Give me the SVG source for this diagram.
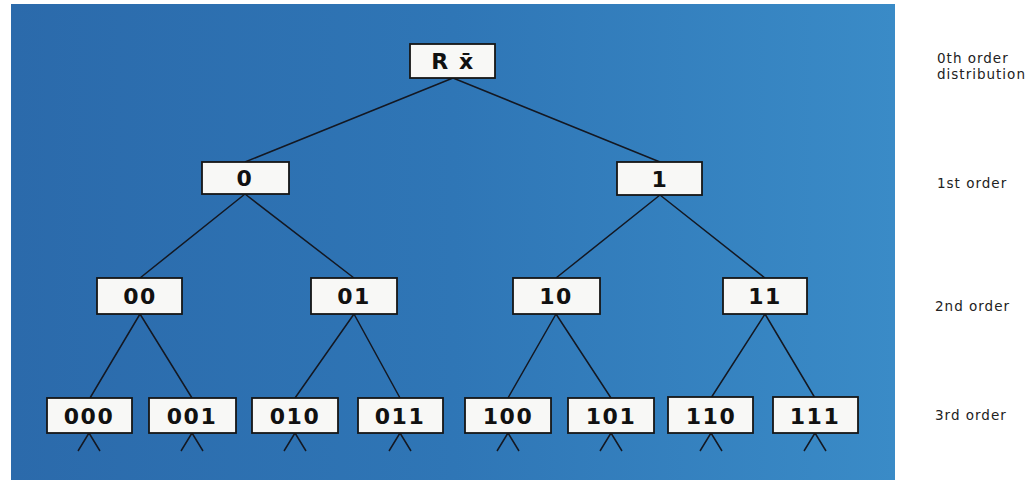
<svg xmlns="http://www.w3.org/2000/svg" width="1035" height="482" viewBox="0 0 1035 482">
<defs>
<linearGradient id="bg" x1="0" y1="0" x2="1" y2="0">
<stop offset="0" stop-color="#2b6aab"/>
<stop offset="0.5" stop-color="#2f76b6"/>
<stop offset="1" stop-color="#3a8bc7"/>
</linearGradient>
<style>
.box{fill:#f8f8f6;stroke:#161616;stroke-width:1.8}
.lbl{font-family:"DejaVu Sans","Liberation Sans",sans-serif;font-weight:bold;font-size:22px;fill:#111;text-anchor:middle;letter-spacing:1.5px}
.side{font-family:"DejaVu Sans","Liberation Sans",sans-serif;font-size:13.5px;fill:#222;letter-spacing:1px}
.edge{stroke:#141822;stroke-width:1.5;fill:none}
</style>
</defs>
<rect width="1035" height="482" fill="#ffffff"/>
<rect x="11" y="4" width="884" height="476" fill="url(#bg)"/>
<g id="connectors" class="edge">
<path d="M453 78 L245 162 M453 78 L660 162"/>
<path d="M245 194 L140 278 M245 194 L354 278 M660 195 L556 278 M660 195 L765 278"/>
<path d="M140 314 L90 398 M140 314 L192 398 M354 314 L295 398 M354 314 L400 398 M556 314 L508 398 M556 314 L611 398 M765 314 L711 398 M765 314 L815 398"/>
<path d="M89 433 L78 451 M89 433 L100 451 M192 433 L181 451 M192 433 L203 451 M295 433 L284 451 M295 433 L306 451 M400 433 L389 451 M400 433 L411 451 M508 433 L497 451 M508 433 L519 451 M611 433 L600 451 M611 433 L622 451 M711 433 L700 451 M711 433 L722 451 M815 433 L804 451 M815 433 L826 451"/>
</g>
<g id="n-root"><rect class="box" x="410" y="44" width="85" height="34"/><text class="lbl" x="453" y="69">R x̄</text></g>
<g id="n-0"><rect class="box" x="202" y="162" width="87" height="32"/><text class="lbl" x="245" y="186">0</text></g>
<g id="n-1"><rect class="box" x="617" y="162" width="85" height="33"/><text class="lbl" x="660" y="187">1</text></g>
<g id="n-00"><rect class="box" x="97" y="278" width="85" height="36"/><text class="lbl" x="140" y="304">00</text></g>
<g id="n-01"><rect class="box" x="311" y="278" width="86" height="36"/><text class="lbl" x="354" y="304">01</text></g>
<g id="n-10"><rect class="box" x="513" y="278" width="87" height="36"/><text class="lbl" x="556" y="304">10</text></g>
<g id="n-11"><rect class="box" x="723" y="278" width="84" height="36"/><text class="lbl" x="765" y="304">11</text></g>
<g id="n-000"><rect class="box" x="47" y="398" width="85" height="35"/><text class="lbl" x="89" y="424">000</text></g>
<g id="n-001"><rect class="box" x="149" y="398" width="87" height="35"/><text class="lbl" x="192" y="424">001</text></g>
<g id="n-010"><rect class="box" x="252" y="398" width="86" height="35"/><text class="lbl" x="295" y="424">010</text></g>
<g id="n-011"><rect class="box" x="358" y="398" width="85" height="35"/><text class="lbl" x="400" y="424">011</text></g>
<g id="n-100"><rect class="box" x="465" y="398" width="86" height="35"/><text class="lbl" x="508" y="424">100</text></g>
<g id="n-101"><rect class="box" x="568" y="398" width="86" height="35"/><text class="lbl" x="611" y="424">101</text></g>
<g id="n-110"><rect class="box" x="668" y="397" width="85" height="36"/><text class="lbl" x="711" y="424">110</text></g>
<g id="n-111"><rect class="box" x="773" y="397" width="85" height="36"/><text class="lbl" x="815" y="424">111</text></g>
<g id="side-labels">
<text class="side" x="937" y="63">0th order</text>
<text class="side" x="937" y="79">distribution</text>
<text class="side" x="937" y="188">1st order</text>
<text class="side" x="935" y="311">2nd order</text>
<text class="side" x="935" y="420">3rd order</text>
</g>
</svg>
